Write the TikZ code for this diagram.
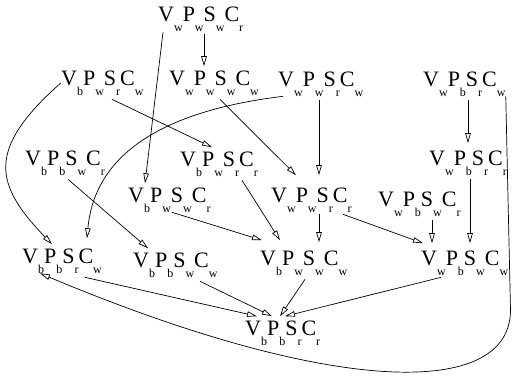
\documentclass[tikz,border=0pt]{standalone}
\usepackage{fontspec}
\setmainfont{Liberation Serif}
\usepackage{tikz}
\usetikzlibrary{arrows.meta}
\newcommand{\lowsub}[1]{\raisebox{-10pt}{\fontsize{12}{12}\selectfont #1}}
\newcommand{\vpsc}[4]{V\lowsub{#1}P\lowsub{#2}S\lowsub{#3}C\lowsub{#4}}
\tikzset{cfg/.style={anchor=base west, inner xsep=0pt, inner ysep=4pt, font=\fontsize{22}{22}\selectfont}}
\tikzset{arr/.style={-{Triangle[open, length=10pt, width=5.5pt]}, line width=.7pt}}

\begin{document}
\begin{tikzpicture}[x=1pt, y=-1pt]
\useasboundingbox (0,0) rectangle (512,381);

\node[cfg] (n1) at (158, 21) {\vpsc{w}{w}{w}{r}};
\node[cfg] (n2) at (61, 85) {\vpsc{b}{w}{r}{w}};
\node[cfg] (n3) at (169, 85) {\vpsc{w}{w}{w}{w}};
\node[cfg] (n4) at (278, 86) {\vpsc{w}{w}{r}{w}};
\node[cfg] (n5) at (423, 86) {\vpsc{w}{b}{r}{w}};
\node[cfg] (n6) at (25, 165) {\vpsc{b}{b}{w}{r}};
\node[cfg] (n7) at (180, 166) {\vpsc{b}{w}{r}{r}};
\node[cfg] (n8) at (429, 165) {\vpsc{w}{b}{r}{r}};
\node[cfg] (n9) at (128, 202) {\vpsc{b}{w}{w}{r}};
\node[cfg] (n10) at (271, 202) {\vpsc{w}{w}{r}{r}};
\node[cfg] (n11) at (378, 206) {\vpsc{w}{b}{w}{r}};
\node[cfg] (n12) at (22, 263) {\vpsc{b}{b}{r}{w}};
\node[cfg] (n13) at (133, 267) {\vpsc{b}{b}{w}{w}};
\node[cfg] (n14) at (260, 265) {\vpsc{b}{w}{w}{w}};
\node[cfg] (n15) at (421, 265) {\vpsc{w}{b}{w}{w}};
\node[cfg] (n16) at (245, 335) {\vpsc{b}{b}{r}{r}};

\draw[arr] ([xshift=46pt,yshift=1pt]n1.south west) -- ([xshift=35pt]n3.north west);
\draw[arr] ([xshift=5pt,yshift=3pt]n1.south west) -- ([xshift=17pt]n9.north west);

\draw[arr] (n2.west) .. controls (-15,150) and (-5,185) .. ([xshift=30pt]n12.north west);
\draw[arr] ([xshift=51pt]n2.south west) -- ([xshift=32pt]n7.north west);
\draw[arr] ([xshift=51pt]n3.south west) -- ([xshift=25pt,yshift=8pt]n10.north west);
\draw[arr] ([xshift=5pt,yshift=4pt]n4.south west) .. controls (170,110) and (95,150) .. ([xshift=65pt,yshift=6pt]n12.north west);
\draw[arr] ([xshift=41pt]n4.south west) -- ([xshift=48pt,yshift=8pt]n10.north west);
\draw[arr] ([xshift=45pt]n5.south west) -- ([xshift=39pt,yshift=3pt]n8.north west);
\draw[arr] ([xshift=0pt,yshift=4pt]n5.south east) -- (510.5,310) .. controls (510.5,400) and (330,395) .. ([xshift=18pt,yshift=4pt]n12.south west);

\draw[arr] ([xshift=41pt]n8.south west) -- ([xshift=49pt,yshift=3pt]n15.north west);
\draw[arr] ([xshift=43pt]n6.south west) -- ([xshift=15pt]n13.north west);
\draw[arr] ([xshift=44pt,yshift=4pt]n9.south west) -- ([xshift=2pt,yshift=6pt]n14.north west);
\draw[arr] ([xshift=62pt]n7.south west) -- ([xshift=20pt,yshift=6pt]n14.north west);
\draw[arr] ([xshift=48pt,yshift=2pt]n10.south west) -- ([xshift=59pt,yshift=4pt]n14.north west);
\draw[arr] ([xshift=72pt,yshift=2pt]n10.south west) -- ([xshift=2pt,yshift=3pt]n15.north west);
\draw[arr] ([xshift=54pt]n11.south west) -- ([xshift=11pt,yshift=3pt]n15.north west);

\draw[arr] ([xshift=63pt]n12.south west) -- ([xshift=12pt]n16.north west);
\draw[arr] ([xshift=67pt]n13.south west) -- ([xshift=27pt]n16.north west);
\draw[arr] ([xshift=45pt]n14.south west) -- ([xshift=35pt]n16.north west);
\draw[arr] ([xshift=20pt,yshift=2pt]n15.south west) -- ([xshift=40pt]n16.north west);

\end{tikzpicture}
\end{document}
